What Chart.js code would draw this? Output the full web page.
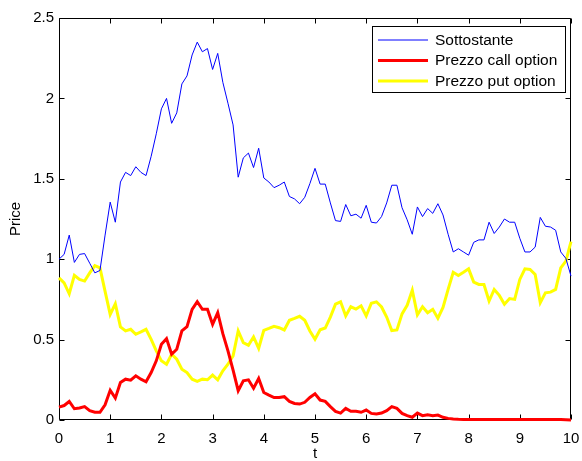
<!DOCTYPE html>
<html>
<head>
<meta charset="utf-8">
<script src="https://cdn.jsdelivr.net/npm/chart.js@4/dist/chart.umd.min.js"></script>
<style>
  html, body { margin: 0; padding: 0; background: #fff; }
  #wrap { width: 582px; height: 461px; }
</style>
</head>
<body>
<div id="wrap"><canvas id="c" width="582" height="461"></canvas></div>
<script>
// ---- data ----
const t = [0,0.1,0.2,0.3,0.4,0.5,0.6,0.7,0.8,0.9,
  1,1.1,1.2,1.3,1.4,1.5,1.6,1.7,1.8,1.9,
  2,2.1,2.2,2.3,2.4,2.5,2.6,2.7,2.8,2.9,
  3,3.1,3.2,3.3,3.4,3.5,3.6,3.7,3.8,3.9,
  4,4.1,4.2,4.3,4.4,4.5,4.6,4.7,4.8,4.9,
  5,5.1,5.2,5.3,5.4,5.5,5.6,5.7,5.8,5.9,
  6,6.1,6.2,6.3,6.4,6.5,6.6,6.7,6.8,6.9,
  7,7.1,7.2,7.3,7.4,7.5,7.6,7.7,7.8,7.9,
  8,8.1,8.2,8.3,8.4,8.5,8.6,8.7,8.8,8.9,
  9,9.1,9.2,9.3,9.4,9.5,9.6,9.7,9.8,9.9,10];

const sottostante = [1.00,1.03,1.15,0.98,1.03,1.035,0.975,0.915,0.93,1.15,
  1.355,1.23,1.48,1.54,1.52,1.575,1.54,1.52,1.64,1.78,
  1.935,2.00,1.845,1.91,2.09,2.14,2.27,2.35,2.29,2.31,
  2.18,2.28,2.10,1.97,1.835,1.51,1.63,1.66,1.57,1.69,
  1.505,1.48,1.445,1.46,1.48,1.39,1.375,1.345,1.385,1.47,
  1.565,1.467,1.467,1.35,1.24,1.235,1.34,1.27,1.28,1.255,
  1.335,1.23,1.225,1.265,1.35,1.46,1.46,1.32,1.245,1.155,
  1.325,1.265,1.315,1.285,1.345,1.275,1.155,1.045,1.065,1.045,
  1.025,1.105,1.12,1.12,1.23,1.16,1.20,1.25,1.23,1.23,
  1.13,1.045,1.045,1.075,1.26,1.205,1.20,1.18,1.045,1.005,0.895];

const callPrice = [0.08,0.09,0.115,0.07,0.075,0.083,0.058,0.048,0.048,0.095,
  0.185,0.136,0.233,0.254,0.248,0.275,0.254,0.238,0.295,0.368,
  0.471,0.506,0.409,0.44,0.554,0.58,0.688,0.736,0.688,0.688,
  0.595,0.667,0.537,0.43,0.31,0.182,0.244,0.25,0.198,0.258,
  0.171,0.155,0.14,0.14,0.145,0.116,0.103,0.099,0.11,0.14,
  0.163,0.124,0.116,0.083,0.054,0.043,0.072,0.054,0.054,0.048,
  0.062,0.041,0.037,0.043,0.058,0.083,0.072,0.041,0.027,0.017,
  0.043,0.027,0.033,0.027,0.031,0.017,0.01,0.006,0.004,0.003,
  0.003,0.003,0.003,0.003,0.003,0.003,0.003,0.003,0.003,0.003,
  0.003,0.003,0.003,0.003,0.003,0.003,0.003,0.003,0.003,0.002,0];

const putPrice = [0.884,0.853,0.785,0.90,0.874,0.864,0.915,0.96,0.946,0.80,
  0.657,0.723,0.579,0.554,0.564,0.533,0.548,0.564,0.502,0.43,
  0.368,0.347,0.409,0.378,0.316,0.295,0.254,0.24,0.254,0.25,
  0.279,0.25,0.306,0.347,0.399,0.554,0.481,0.465,0.517,0.446,
  0.558,0.57,0.583,0.574,0.56,0.62,0.632,0.645,0.62,0.554,
  0.502,0.561,0.572,0.64,0.72,0.735,0.647,0.704,0.69,0.71,
  0.647,0.726,0.735,0.703,0.64,0.556,0.56,0.66,0.713,0.807,
  0.654,0.704,0.667,0.688,0.633,0.70,0.812,0.919,0.899,0.919,
  0.94,0.858,0.843,0.843,0.74,0.812,0.775,0.72,0.755,0.75,
  0.874,0.94,0.936,0.905,0.73,0.791,0.795,0.812,0.946,0.988,1.11];

const seriesLabels = ['Sottostante', 'Prezzo call option', 'Prezzo put option'];
const xTicks = [0,1,2,3,4,5,6,7,8,9,10];
const yTicks = [0,0.5,1,1.5,2,2.5];

// ---- chart ----
Chart.defaults.font.family = "'Liberation Sans', Arial, Helvetica, sans-serif";
Chart.defaults.font.size = 15;
Chart.defaults.color = '#000';

function pts(ys) { return t.map((x, i) => ({ x: x, y: ys[i] })); }

const matlabAxes = {
  id: 'matlabAxes',
  beforeDatasetsDraw(chart) {
    const { ctx, chartArea: a, scales: { x, y } } = chart;
    const L = Math.round(a.left) + 0.5, R = Math.round(a.right) - 0.5;
    const T = Math.round(a.top) + 0.5, B = Math.round(a.bottom) - 0.5;
    ctx.save();
    ctx.strokeStyle = '#000';
    ctx.lineWidth = 1;
    ctx.beginPath();
    ctx.rect(L, T, R - L, B - T);
    const tl = 5;
    xTicks.forEach(v => {
      const px = Math.round(x.getPixelForValue(v)) + 0.5;
      ctx.moveTo(px, B); ctx.lineTo(px, B - tl);
      ctx.moveTo(px, T); ctx.lineTo(px, T + tl);
    });
    yTicks.forEach(v => {
      const py = Math.round(y.getPixelForValue(v)) + 0.5;
      ctx.moveTo(L, py); ctx.lineTo(L + tl, py);
      ctx.moveTo(R, py); ctx.lineTo(R - tl, py);
    });
    ctx.stroke();
    ctx.restore();
  },
  afterDraw(chart) {
    const { ctx } = chart;
    const bx = 372.5, by = 26.5, bw = 193, bh = 66;
    ctx.save();
    ctx.fillStyle = '#fff';
    ctx.fillRect(bx, by, bw, bh);
    ctx.strokeStyle = '#000';
    ctx.lineWidth = 1;
    ctx.strokeRect(bx, by, bw, bh);
    const rows = [40, 60.5, 81];
    ctx.font = "15.5px 'Liberation Sans', Arial, Helvetica, sans-serif";
    ctx.textBaseline = 'middle';
    ctx.textAlign = 'left';
    chart.data.datasets.forEach((ds, i) => {
      ctx.strokeStyle = ds.borderColor;
      ctx.lineWidth = ds.borderWidth;
      ctx.beginPath();
      ctx.moveTo(378, rows[i]);
      ctx.lineTo(428, rows[i]);
      ctx.stroke();
      ctx.fillStyle = '#000';
      ctx.fillText(ds.label, 435, rows[i] + 0.5);
    });
    ctx.restore();
  }
};

new Chart(document.getElementById('c'), {
  type: 'line',
  data: {
    datasets: [
      { label: seriesLabels[0], data: pts(sottostante), borderColor: '#0000ff', borderWidth: 1, pointRadius: 0, tension: 0, fill: false, clip: 2 },
      { label: seriesLabels[1], data: pts(callPrice), borderColor: '#ff0000', borderWidth: 3, pointRadius: 0, tension: 0, fill: false, clip: 2 },
      { label: seriesLabels[2], data: pts(putPrice), borderColor: '#ffff00', borderWidth: 3, pointRadius: 0, tension: 0, fill: false, clip: 2 }
    ]
  },
  options: {
    responsive: false,
    animation: false,
    events: [],
    layout: { padding: { left: 0, right: 11, top: 18, bottom: 0 } },
    plugins: { legend: { display: false }, tooltip: { enabled: false } },
    scales: {
      x: {
        type: 'linear', min: 0, max: 10,
        afterBuildTicks(s) { s.ticks = xTicks.map(v => ({ value: v })); },
        ticks: { padding: 10, color: '#000', maxRotation: 0, autoSkip: false, callback: v => String(v) },
        grid: { display: false, drawTicks: false },
        border: { display: false },
        title: { display: true, text: 't', color: '#000', padding: { top: 0, bottom: -2 } },
        afterFit(s) { s.height = 41; s.paddingLeft = 0; s.paddingRight = 0; }
      },
      y: {
        type: 'linear', min: 0, max: 2.5,
        afterBuildTicks(s) { s.ticks = yTicks.map(v => ({ value: v })); },
        ticks: { padding: 5, color: '#000', autoSkip: false, callback: v => String(v) },
        grid: { display: false, drawTicks: false },
        border: { display: false },
        title: { display: true, text: 'Price', color: '#000', padding: { top: 7, bottom: 0 } },
        afterFit(s) { s.width = 59; s.paddingTop = 0; s.paddingBottom = 0; }
      }
    }
  },
  plugins: [matlabAxes]
});
</script>
</body>
</html>
